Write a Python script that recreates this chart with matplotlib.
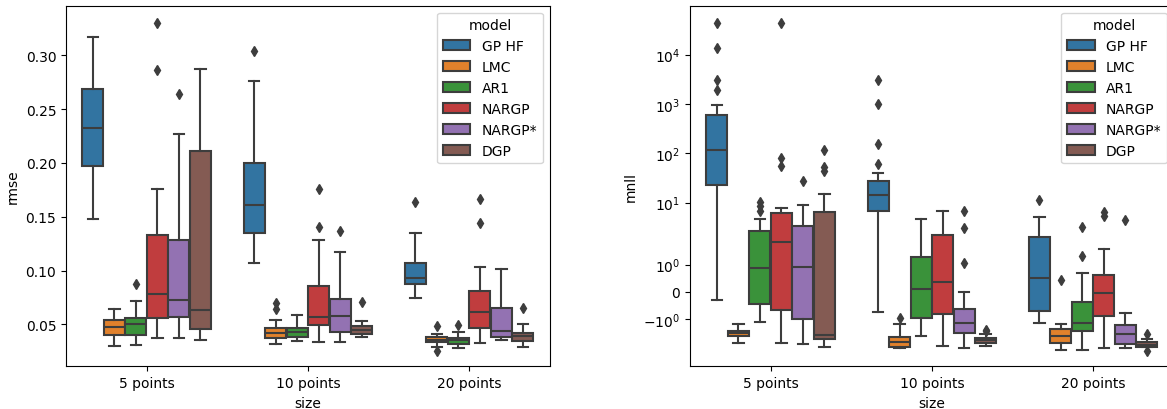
import matplotlib
matplotlib.use("Agg")
import matplotlib.pyplot as plt
from matplotlib.patches import Patch
import numpy as np

# ---------------- data ----------------
sizes = ["5 points", "10 points", "20 points"]
models = ["GP HF", "LMC", "AR1", "NARGP", "NARGP*", "DGP"]
colors = ["#3274a1", "#e1812c", "#3a923a", "#c03d3e", "#9372b2", "#845b53"]

# rmse box statistics, [size][model]
rmse_whislo = [[0.148, 0.0301, 0.0308, 0.0370, 0.0376, 0.0351],
               [0.1069, 0.0320, 0.0345, 0.0339, 0.0336, 0.0379],
               [0.0747, 0.0292, 0.0283, 0.0323, 0.0351, 0.0286]]
rmse_q1 = [[0.197, 0.0401, 0.0403, 0.0556, 0.0565, 0.0456],
           [0.1351, 0.0373, 0.0379, 0.0494, 0.0429, 0.0413],
           [0.0871, 0.0333, 0.0317, 0.0466, 0.0379, 0.0342]]
rmse_med = [[0.232, 0.0475, 0.0500, 0.0782, 0.0726, 0.0633],
            [0.1611, 0.0422, 0.0429, 0.0565, 0.0577, 0.0447],
            [0.0933, 0.0357, 0.0351, 0.0611, 0.0441, 0.0389]]
rmse_q3 = [[0.269, 0.0543, 0.0556, 0.1332, 0.1280, 0.2115],
           [0.2001, 0.0468, 0.0463, 0.0859, 0.0739, 0.0488],
           [0.1069, 0.0379, 0.0376, 0.0809, 0.0649, 0.0416]]
rmse_whishi = [[0.317, 0.0642, 0.0719, 0.1759, 0.2267, 0.2876],
               [0.2765, 0.0543, 0.0583, 0.1280, 0.1172, 0.0531],
               [0.1348, 0.0410, 0.0431, 0.1029, 0.1014, 0.0503]]
rmse_fliers = [[[], [], [0.0871], [0.2867, 0.3303], [0.2641], []],
               [[0.3037], [0.0642, 0.0698], [], [0.1400, 0.1756], [0.1363], [0.0707]],
               [[0.1635], [0.0255, 0.0487], [0.0494], [0.1441, 0.1660], [], [0.0649]]]

# mnll box statistics, [size][model]
mnll_whislo = [[-0.281, -1.873, -1.083, -1.873, -1.909, -2.05],
               [-0.742, -2.146, -1.605, -1.96, -2.146, -1.981],
               [-1.131, -2.32, -2.28, -2.146, -2.146, -2.05]]
mnll_q1 = [[23.2, -1.605, -0.438, -0.657, -0.985, -1.715],
           [6.89, -1.995, -0.937, -0.790, -1.496, -1.850],
           [-0.682, -1.861, -1.435, -0.864, -1.897, -1.995]]
mnll_med = [[118.8, -1.508, 0.876, 1.835, 0.924, -1.557],
            [14.5, -1.811, 0.120, 0.376, -1.131, -1.763],
            [0.50, -1.617, -1.131, -0.036, -1.544, -1.922]]
mnll_q3 = [[608.0, -1.411, 2.71, 6.10, 3.42, 6.38],
           [27.96, -1.654, 1.288, 2.21, -0.620, -1.678],
           [1.995, -1.35, -0.376, 0.632, -1.193, -1.836]]
mnll_whishi = [[939.0, -1.167, 4.67, 7.70, 9.11, 15.2],
               [40.6, -1.155, 4.60, 6.69, 0.0, -1.544],
               [5.06, -1.167, 0.693, 1.58, -0.778, -1.715]]
mnll_fliers = [[[1950, 3068, 13870, 44460], [], [6.8, 8.5, 10.5], [56.3, 81.8, 44460], [27.1], [43.2, 53.7, 118.8]],
               [[60.8, 152.4, 985, 3068], [-0.961], [], [], [1.058, 3.07, 6.69], [-1.386, -1.43]],
               [[11.5], [0.449], [1.302, 3.17], [5.46, 6.38], [4.40], [-1.532, -2.40]]]

# ---------------- drawing ----------------
gray = (0.24, 0.24, 0.24)
lw = 1.5
width = 0.8
n = len(models)
each = width / n
offsets = np.linspace(0, width - each, n)
offsets -= offsets.mean()
box_w = each * 0.98


def draw(ax, whislo, q1, med, q3, whishi, fliers):
    for i in range(len(sizes)):
        for j in range(n):
            st = [dict(whislo=whislo[i][j], q1=q1[i][j], med=med[i][j],
                       q3=q3[i][j], whishi=whishi[i][j], fliers=fliers[i][j])]
            ax.bxp(st, positions=[i + offsets[j]], widths=box_w,
                   patch_artist=True, manage_ticks=False,
                   boxprops=dict(facecolor=colors[j], edgecolor=gray, linewidth=lw),
                   whiskerprops=dict(color=gray, linewidth=lw),
                   capprops=dict(color=gray, linewidth=lw),
                   medianprops=dict(color=gray, linewidth=lw),
                   flierprops=dict(marker="d", markerfacecolor=gray,
                                   markeredgecolor=gray, markersize=5,
                                   linestyle="none"))
    ax.set_xticks(range(len(sizes)))
    ax.set_xticklabels(sizes)
    ax.set_xlim(-0.5, len(sizes) - 0.5)
    ax.set_xlabel("size")
    handles = [Patch(facecolor=c, edgecolor=gray, linewidth=lw, label=m)
               for c, m in zip(colors, models)]
    ax.legend(handles=handles, title="model", loc="upper right")


fig = plt.figure(figsize=(11.67, 4.10), dpi=100)
ax1 = fig.add_axes([0.05656, 0.1041, 0.4145, 0.8795])
ax2 = fig.add_axes([0.5913, 0.1041, 0.4145, 0.8795])

draw(ax1, rmse_whislo, rmse_q1, rmse_med, rmse_q3, rmse_whishi, rmse_fliers)
ax1.set_ylabel("rmse")
ax1.set_ylim(0.011, 0.346)

ax2.set_yscale("symlog")
draw(ax2, mnll_whislo, mnll_q1, mnll_med, mnll_q3, mnll_whishi, mnll_fliers)
ax2.set_ylabel("mnll")
ax2.set_ylim(-4.97, 98000)

fig.savefig("out.png", dpi=100)
